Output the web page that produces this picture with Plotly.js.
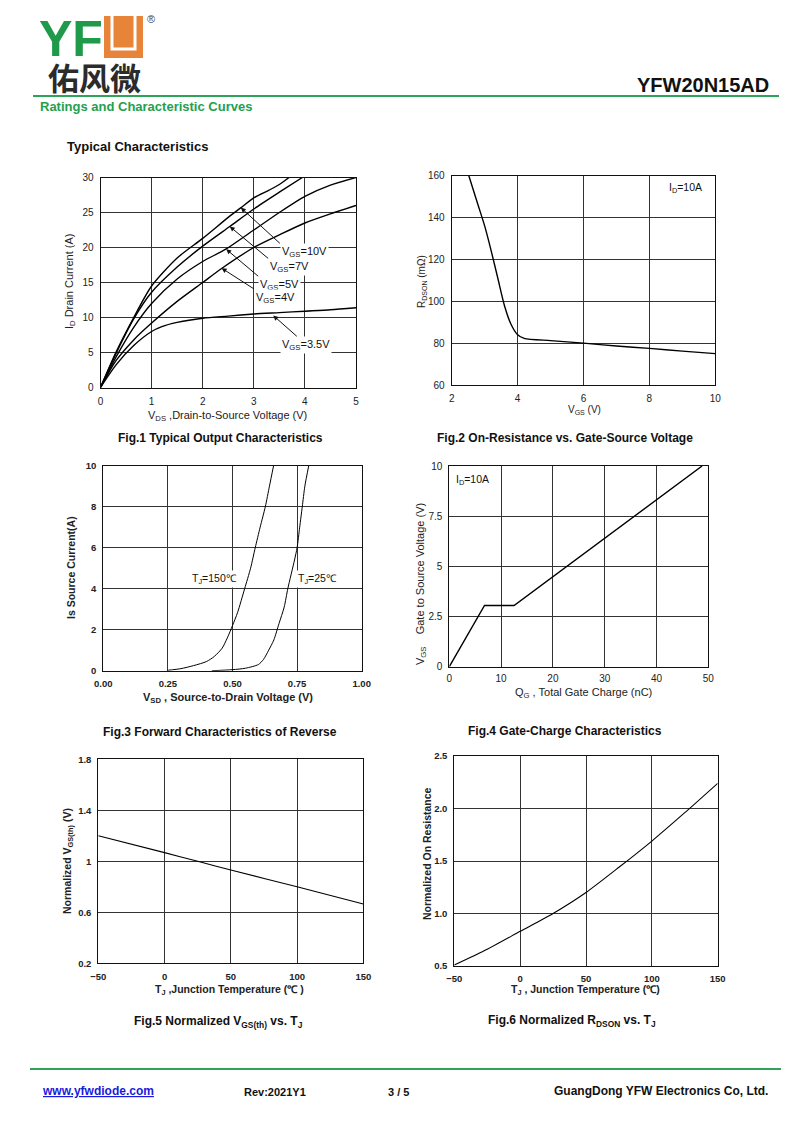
<!DOCTYPE html>
<html><head><meta charset="utf-8">
<script src="https://cdn.plot.ly/plotly-3.0.1.min.js"></script>
<style>html,body{margin:0;padding:0;background:#fff}</style>
</head><body><div id="chart" style="width:800px;height:1130px"></div>
<script>
// ---------- Fig.1 Typical Output Characteristics ----------
const fig1_vgs10_vds = [0,0.3,0.65,1,1.5,2,2.5,2.75,3,3.3,3.5,3.69];
const fig1_vgs10_id  = [0,5,10,14.5,18.5,21.3,24.3,25.7,27.1,28.2,29,30];
const fig1_vgs7_vds  = [0,0.3,0.65,1,1.5,2,2.53,3,3.5,3.95];
const fig1_vgs7_id   = [0,4.8,9.8,13.6,17.2,20.2,23,25.5,27.9,30];
const fig1_vgs5_vds  = [0,0.3,0.65,1,1.5,2,2.46,3,3.5,4,4.5,5];
const fig1_vgs5_id   = [0,4.3,8.6,12,15.5,18,19.8,22.5,25,27.3,28.9,30];
const fig1_vgs4_vds  = [0,0.3,0.65,1,1.5,2,2.37,3,3.5,4,4.5,5];
const fig1_vgs4_id   = [0,3.8,6.8,9.2,12.3,15,17,20,21.8,23.5,24.8,26];
const fig1_vgs35_vds = [0,0.3,0.65,1,1.2,1.5,2,2.5,3,3.5,4,4.5,5];
const fig1_vgs35_id  = [0,3.2,6,8,8.7,9.3,9.9,10.2,10.5,10.7,10.9,11.1,11.4];
const fig1_labels = ['V<sub>GS</sub>=10V','V<sub>GS</sub>=7V','V<sub>GS</sub>=5V','V<sub>GS</sub>=4V','V<sub>GS</sub>=3.5V'];

// ---------- Fig.2 On-Resistance vs VGS ----------
const fig2_vgs  = [2.52,2.8,3.0,3.2,3.4,3.6,3.8,4.0,4.2,5,6,7,8,9,10];
const fig2_rds  = [160,146,136,124,111,98,89,84,82.3,81.2,80,78.6,77.5,76.2,75];

// ---------- Fig.3 Forward characteristics of reverse diode ----------
const fig3_vsd_150 = [0.25,0.30,0.35,0.40,0.43,0.46,0.48,0.50,0.52,0.547,0.57,0.588,0.607,0.627,0.643,0.659];
const fig3_is_150  = [0.02,0.1,0.25,0.45,0.7,1.1,1.6,2.2,2.85,4,5,6,7,8,9,10];
const fig3_vsd_25  = [0.42,0.50,0.55,0.60,0.62,0.64,0.66,0.68,0.70,0.714,0.74,0.75,0.76,0.77,0.78,0.795];
const fig3_is_25   = [0,0.05,0.12,0.3,0.55,1.0,1.5,2.3,3.1,4,5.4,6,7,8,9,10];

// ---------- Fig.4 Gate charge ----------
const fig4_qg  = [0,6.8,12.5,48.8];
const fig4_vgs = [0,3.05,3.05,10];

// ---------- Fig.5 Normalized VGS(th) ----------
const fig5_tj  = [-50,0,25,50,100,150];
const fig5_vth = [1.2,1.068,1.0,0.932,0.80,0.665];

// ---------- Fig.6 Normalized RDSON ----------
const fig6_tj  = [-50,-25,0,25,50,75,100,125,150];
const fig6_rds = [0.51,0.66,0.83,1.0,1.2,1.44,1.69,1.96,2.24];

// tick labels
const fig4_yticks = [0,2.5,5,7.5,10];
const fig4_yticktext = ['0','2.5','5','7.5','10'];
const fig5_yticks = [0.2,0.6,1,1.4,1.8];
const fig5_yticktext = ['0.2','0.6','1','1.4','1.8'];

const W = 800, H = 1130;
const PX = x => x / W;
const PY = y => 1 - y / H;

function line(x, y, xa, ya, w, shape) {
  return {x: x, y: y, xaxis: xa, yaxis: ya, mode: 'lines', hoverinfo: 'skip',
    line: {color: '#000', width: w, shape: shape || 'spline', smoothing: 0.7}};
}
const traces = [
  line(fig1_vgs10_vds, fig1_vgs10_id, 'x', 'y', 1.4),
  line(fig1_vgs7_vds, fig1_vgs7_id, 'x', 'y', 1.4),
  line(fig1_vgs5_vds, fig1_vgs5_id, 'x', 'y', 1.4),
  line(fig1_vgs4_vds, fig1_vgs4_id, 'x', 'y', 1.4),
  line(fig1_vgs35_vds, fig1_vgs35_id, 'x', 'y', 1.4),
  line(fig2_vgs, fig2_rds, 'x2', 'y2', 1.4),
  line(fig3_vsd_150, fig3_is_150, 'x3', 'y3', 1),
  line(fig3_vsd_25, fig3_is_25, 'x3', 'y3', 1),
  line(fig4_qg, fig4_vgs, 'x4', 'y4', 1.4, 'linear'),
  line(fig5_tj, fig5_vth, 'x5', 'y5', 1.1),
  line(fig6_tj, fig6_rds, 'x6', 'y6', 1.1)
];

const FONT = 'Liberation Sans, Arial, sans-serif';
function ax(domain, anchor, extra, bold) {
  return Object.assign({
    domain: domain, anchor: anchor, showline: true, mirror: true, linecolor: '#111', linewidth: 1,
    showgrid: true, gridcolor: '#333', gridwidth: 1, zeroline: false, ticks: '',
    ticklabelstandoff: 4, fixedrange: true,
    tickfont: {family: FONT, size: bold ? 9.5 : 10, color: '#222', weight: bold ? 'bold' : 'normal'}
  }, extra);
}
const xd = (a, b) => [PX(a), PX(b)];
const yd = (top, bot) => [PY(bot), PY(top)];

const layout = {
  width: W, height: H, margin: {l: 0, r: 0, t: 0, b: 0},
  paper_bgcolor: '#fff', plot_bgcolor: '#fff', showlegend: false,
  font: {family: FONT, color: '#111'},
  xaxis:  ax(xd(100.5, 356), 'y',  {range: [0, 5], dtick: 1}),
  yaxis:  ax(yd(177.5, 387.5), 'x', {range: [0, 30], dtick: 5}),
  xaxis2: ax(xd(451.7, 715.3), 'y2', {range: [2, 10], dtick: 2}),
  yaxis2: ax(yd(175.7, 385), 'x2', {range: [60, 160], dtick: 20}),
  xaxis3: ax(xd(103.3, 361.7), 'y3', {range: [0, 1], dtick: 0.25, tickformat: '.2f'}, true),
  yaxis3: ax(yd(465.7, 670.7), 'x3', {range: [0, 10], dtick: 2}, true),
  xaxis4: ax(xd(449.3, 708.3), 'y4', {range: [0, 50], dtick: 10, ticklabelstandoff: 2}),
  yaxis4: ax(yd(466, 666.7), 'x4', {range: [0, 10], tickvals: fig4_yticks, ticktext: fig4_yticktext}),
  xaxis5: ax(xd(98.3, 363.3), 'y5', {range: [-50, 150], dtick: 50}, true),
  yaxis5: ax(yd(759.3, 963.3), 'x5', {range: [0.2, 1.8], tickvals: fig5_yticks, ticktext: fig5_yticktext}, true),
  xaxis6: ax(xd(454.3, 717.7), 'y6', {range: [-50, 150], dtick: 50}, true),
  yaxis6: ax(yd(756, 966), 'x6', {range: [0.5, 2.5], dtick: 0.5, tickformat: '.1f'}, true),
  annotations: [],
  shapes: []
};

const A = layout.annotations;
function ptext(text, x, y, size, opts) {
  A.push(Object.assign({xref: 'paper', yref: 'paper', x: PX(x), y: PY(y), text: text, showarrow: false,
    xanchor: 'center', yanchor: 'middle', font: {family: FONT, size: size, color: '#111'}}, opts || {}));
}
function ytitle(text, x, y, size, bold) {
  ptext(text, x, y, size, {textangle: -90, font: {family: FONT, size: size, color: '#222', weight: bold ? 'bold' : 'normal'}});
}
function xtitle(text, x, y, size, bold) {
  ptext(text, x, y, size, {font: {family: FONT, size: size, color: '#222', weight: bold ? 'bold' : 'normal'}});
}

// Header
ptext('YF', 37, 39, 50, {xanchor: 'left', font: {family: FONT, size: 50, color: '#1f9a4b', weight: 'bold'}});
ptext('®', 151, 19, 11, {font: {family: FONT, size: 11, color: '#444'}});
ptext('佑风微', 94, 77, 31, {font: {family: 'Noto Sans CJK SC', size: 31, color: '#2b2b2b', weight: 'bold'}});
ptext('YFW20N15AD', 771, 85, 20, {xanchor: 'right', font: {family: FONT, size: 20, color: '#111', weight: 'bold'}});
ptext('Ratings and Characteristic Curves', 38, 106, 13, {xanchor: 'left', font: {family: FONT, size: 13, color: '#23a04f', weight: 'bold'}});
ptext('Typical Characteristics', 65, 146, 13, {xanchor: 'left', font: {family: FONT, size: 13, color: '#111', weight: 'bold'}});

layout.shapes.push(
  {type: 'rect', xref: 'paper', yref: 'paper', x0: PX(104), x1: PX(143), y0: PY(58), y1: PY(16), fillcolor: '#e8833a', line: {width: 0}},
  {type: 'path', xref: 'paper', yref: 'paper', path: `M ${PX(112)} ${PY(16)} L ${PX(112)} ${PY(49)} L ${PX(135)} ${PY(49)} L ${PX(135)} ${PY(16)}`,
   line: {color: '#fff', width: 3}},
  {type: 'line', xref: 'paper', yref: 'paper', x0: PX(33), x1: PX(779), y0: PY(96), y1: PY(96), line: {color: '#2ea35a', width: 2}},
  {type: 'line', xref: 'paper', yref: 'paper', x0: PX(30), x1: PX(781), y0: PY(1069), y1: PY(1069), line: {color: '#2ea35a', width: 2}}
);

// Footer
ptext('<u>www.yfwdiode.com</u>', 40, 1091, 12, {xanchor: 'left', font: {family: FONT, size: 12, color: '#1a1adb', weight: 'bold'}});
ptext('Rev:2021Y1', 242, 1092, 11, {xanchor: 'left', font: {family: FONT, size: 11, color: '#111', weight: 'bold'}});
ptext('3 / 5', 398, 1092, 11, {font: {family: FONT, size: 11, color: '#111', weight: 'bold'}});
ptext('GuangDong YFW Electronics Co, Ltd.', 770, 1091, 12, {xanchor: 'right', font: {family: FONT, size: 12, color: '#111', weight: 'bold'}});

// Captions
const capFont = s => ({family: FONT, size: s, color: '#111', weight: 'bold'});
ptext('Fig.1 Typical Output Characteristics', 220, 438, 12, {font: capFont(12)});
ptext('Fig.2 On-Resistance vs. Gate-Source Voltage', 565, 438, 12, {font: capFont(12)});
ptext('Fig.3 Forward Characteristics of Reverse', 220, 732, 12, {font: capFont(12)});
ptext('Fig.4 Gate-Charge Characteristics', 565, 731, 12, {font: capFont(12)});
ptext('Fig.5 Normalized V<sub>GS(th)</sub> vs. T<sub>J</sub>', 218, 1022, 12, {font: capFont(12)});
ptext('Fig.6 Normalized R<sub>DSON</sub> vs. T<sub>J</sub>', 572, 1021, 12, {font: capFont(12)});

// Axis titles
ytitle('I<sub>D</sub> Drain Current (A)', 70, 282, 11);
xtitle('V<sub>DS</sub> ,Drain-to-Source Voltage (V)', 228, 416, 11);
ytitle('R<sub>DSON</sub> (mΩ)', 422, 282, 10);
xtitle('V<sub>GS</sub> (V)', 584, 410, 10);
ytitle('Is Source Current(A)', 71, 568, 10.5, true);
xtitle('V<sub>SD</sub> , Source-to-Drain Voltage (V)', 228, 698, 11, true);
ytitle('V<sub>GS</sub>    Gate to Source Voltage (V)', 421, 584, 11);
xtitle('Q<sub>G</sub> , Total Gate Charge (nC)', 583, 693, 11);
ytitle('Normalized V<sub>GS(th)</sub> (V)', 68, 861, 10.5, true);
xtitle('T<sub>J</sub> ,Junction Temperature (℃ )', 230, 990, 10.5, true);
ytitle('Normalized On Resistance', 427, 853, 10.5, true);
xtitle('T<sub>J</sub> , Junction Temperature (℃)', 585, 990, 10.5, true);

// Fig.1 curve labels with arrows (arrow head on curve, tail at label corner)
const lblFont = {family: FONT, size: 11, color: '#111'};
function arrowLabel(text, x, y, tx, ty, xa, ya, anchorX, anchorY) {
  A.push({xref: xa, yref: ya, axref: xa, ayref: ya, x: x, y: y, ax: tx, ay: ty, text: text,
    showarrow: true, arrowhead: 2, arrowsize: 1, arrowwidth: 1, arrowcolor: '#111', standoff: 0,
    xanchor: anchorX, yanchor: anchorY, bgcolor: '#fff', borderpad: 1, font: lblFont});
}
arrowLabel(fig1_labels[0], 2.745, 25.7, 3.51, 20.6, 'x', 'y', 'left', 'top');
arrowLabel(fig1_labels[1], 2.53, 23.0, 3.28, 18.45, 'x', 'y', 'left', 'top');
arrowLabel(fig1_labels[2], 2.46, 19.76, 3.085, 15.9, 'x', 'y', 'left', 'top');
arrowLabel(fig1_labels[3], 2.37, 17.05, 3.0, 14.1, 'x', 'y', 'left', 'top');
arrowLabel(fig1_labels[4], 3.38, 10.29, 4.03, 6.1, 'x', 'y', 'center', 'middle');

// Other in-plot labels
A.push({xref: 'x2', yref: 'y2', x: 9.1, y: 154, text: 'I<sub>D</sub>=10A', showarrow: false, font: {family: FONT, size: 10.5, color: '#111'}});
A.push({xref: 'x3', yref: 'y3', x: 0.43, y: 4.47, text: 'T<sub>J</sub>=150℃', showarrow: false, bgcolor: '#fff', font: {family: FONT, size: 10.5, color: '#111'}});
A.push({xref: 'x3', yref: 'y3', x: 0.83, y: 4.47, text: 'T<sub>J</sub>=25℃', showarrow: false, bgcolor: '#fff', font: {family: FONT, size: 10.5, color: '#111'}});
A.push({xref: 'x4', yref: 'y4', x: 4.4, y: 9.3, text: 'I<sub>D</sub>=10A', showarrow: false, font: {family: FONT, size: 10.5, color: '#111'}});

Plotly.newPlot('chart', traces, layout, {staticPlot: true, displayModeBar: false});
</script>
</body></html>
